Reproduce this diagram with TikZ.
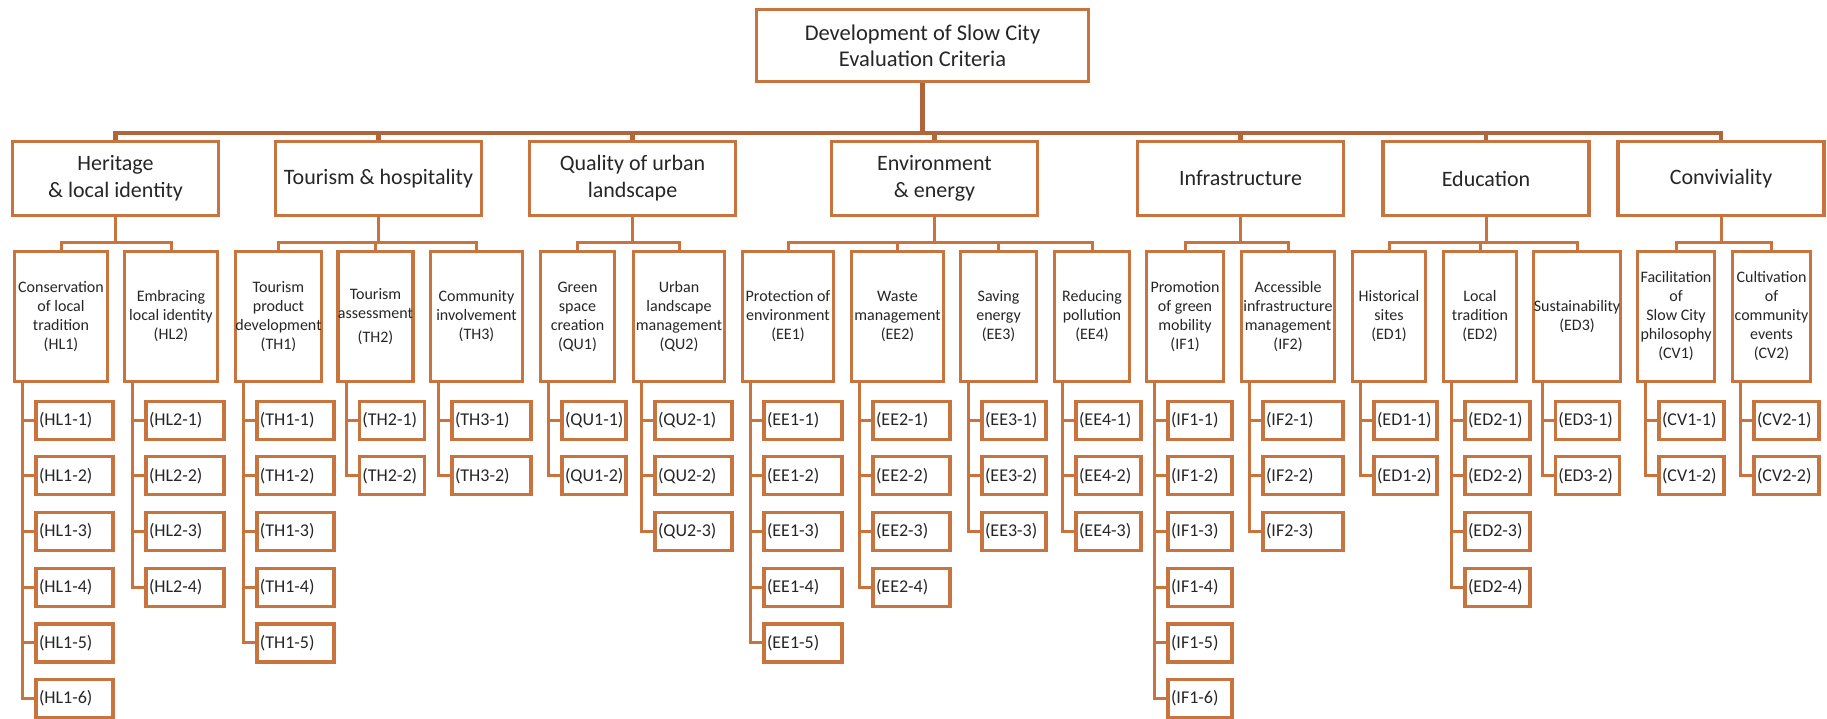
\documentclass[tikz,border=0pt]{standalone}
\usepackage{fontspec}
\setmainfont{Carlito}
\usetikzlibrary{calc}

\definecolor{boxline}{HTML}{C8743F}
\definecolor{busline}{HTML}{B0663A}
\definecolor{ink}{HTML}{262626}

\tikzset{
  boxframe/.style={draw=boxline, line width=3.2pt, fill=white, text=ink, align=center, inner sep=1pt},
  rootbox/.style={boxframe, minimum width=332pt, minimum height=72pt, font=\fontsize{22.5}{26}\selectfont},
  areabox/.style={boxframe, minimum width=206pt, minimum height=74pt, font=\fontsize{22}{27}\selectfont},
  critbox/.style={boxframe, minimum height=130pt, inner xsep=0pt, font=\fontsize{16}{19}\selectfont},
  indbox/.style={boxframe, anchor=west, minimum height=38pt, align=left, inner xsep=3pt, font=\fontsize{18}{20}\selectfont},
  link/.style={draw=boxline, line width=3pt},
  trunk/.style={draw=busline, line width=4.5pt},
}

\begin{document}
\begin{tikzpicture}[x=1pt, y=-1pt]
  \useasboundingbox (0,0) rectangle (1827,719);
  \node[rootbox] (root) at (922.5,45.5) {Development of Slow City\\Evaluation Criteria};
  \coordinate (topbus) at (0,133);
  \coordinate (lowbus) at (0,243);

  % seven areas
  \foreach \a/\x/\txt in {HL/115.5/{Heritage\\\& local identity}, TH/378.5/{Tourism \& hospitality},
      QU/632.5/{Quality of urban\\landscape}, EE/934.5/{Environment\\\& energy},
      IF/1240.5/Infrastructure, ED/1486/Education, CV/1721/Conviviality}
    \node[areabox] (\a) at (\x,178.5) {\txt};
  \draw[trunk] (root) -- (root |- topbus);
  \draw[trunk] (HL.north) |- (CV.north |- topbus) -- (CV.north);
  \foreach \a in {TH,QU,EE,IF,ED}
    \draw[trunk] (\a.north |- topbus) -- (\a.north);

  % criteria
  \foreach \c/\x/\w/\txt in {
      HL1/61/93/{Conservation\\of local\\tradition\\(HL1)},
      HL2/171/93/{Embracing\\local identity\\(HL2)},
      TH1/278.5/86/{Tourism\\product\\development\\(TH1)},
      TH2/375.5/74/{Tourism\\assessment\\[5pt](TH2)},
      TH3/476.5/92/{Community\\involvement\\(TH3)},
      QU1/577.5/74/{Green\\space\\creation\\(QU1)},
      QU2/679/91/{Urban\\landscape\\management\\(QU2)},
      EE1/788/91/{Protection of\\environment\\(EE1)},
      EE2/897.5/92/{Waste\\management\\(EE2)},
      EE3/998.5/76/{Saving\\energy\\(EE3)},
      EE4/1092/75/{Reducing\\pollution\\(EE4)},
      IF1/1185/77/{Promotion\\of green\\mobility\\(IF1)},
      IF2/1288/93/{Accessible\\infrastructure\\management\\(IF2)},
      ED1/1389/73/{Historical\\sites\\(ED1)},
      ED2/1480/73/{Local\\tradition\\(ED2)},
      ED3/1577/85/{Sustainability\\(ED3)},
      CV1/1676/77/{Facilitation\\of\\Slow City\\philosophy\\(CV1)},
      CV2/1771.5/78/{Cultivation\\of\\community\\events\\(CV2)}}
    \node[critbox, minimum width=\w pt] (\c) at (\x,316.5) {\txt};
  \foreach \a/\first/\last in {HL/HL1/HL2, TH/TH1/TH3, QU/QU1/QU2, EE/EE1/EE4, IF/IF1/IF2, ED/ED1/ED3, CV/CV1/CV2} {
    \draw[link] (\a) -- (\a |- lowbus);
    \draw[link] (\first.north) |- (\last.north |- lowbus) -- (\last.north);
  }
  \foreach \c in {TH2,EE2,EE3,ED2}
    \draw[link] (\c.north |- lowbus) -- (\c.north);

  % indicators
  \foreach \c/\w/\n in {HL1/77/6, HL2/78/4, TH1/77/5, TH2/65/2, TH3/79/2, QU1/64/2, QU2/77/3,
      EE1/78/5, EE2/77/4, EE3/64/3, EE4/65/3, IF1/64/6, IF2/80/3, ED1/63/2, ED2/65/4,
      ED3/64/2, CV1/65/2, CV2/65/2} {
    \pgfmathsetmacro\itemw{\w-6}
    \coordinate (\c-spine) at ($(\c.south west)+(10,0)$);
    \foreach \k in {1,...,\n}
      \node[indbox, text width=\itemw pt] (\c-\k) at ($(\c-spine)+(11.5,37+55.7*\k-55.7)$) {\mbox{(\c-\k)}};
    \draw[link] (\c-spine) |- (\c-\n.west);
    \foreach \k in {1,...,\n}
      \draw[link] (\c-spine |- \c-\k.west) -- (\c-\k.west);
  }
\end{tikzpicture}
\end{document}
